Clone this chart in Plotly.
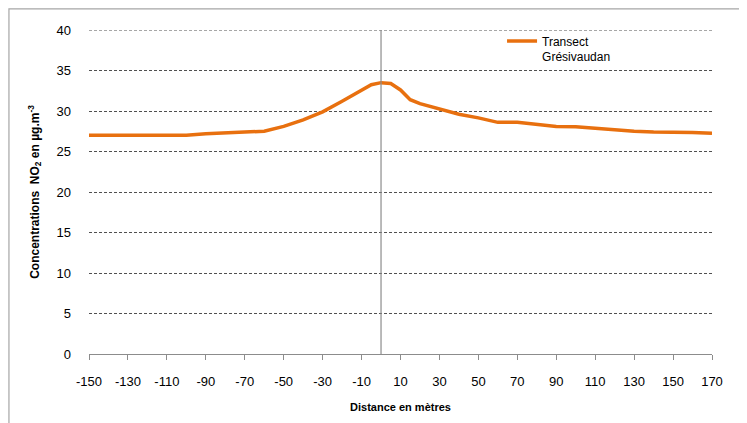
import plotly.graph_objects as go

# Data
distance_m = [-150, -140, -130, -120, -110, -100, -90, -80, -70, -60, -50, -40, -30, -20,
              -10, -5, 0, 5, 10, 15, 20, 30, 40, 50, 60, 70, 80, 90, 100, 110, 120, 130,
              140, 150, 160, 170]
no2_conc = [27.0, 27.0, 27.0, 27.0, 27.0, 27.0, 27.2, 27.25, 27.4, 27.5, 28.1, 28.9, 29.9, 31.2,
            32.6, 33.25, 33.5, 33.4, 32.6, 31.4, 30.9, 30.2, 29.6, 29.15, 28.6, 28.6, 28.3, 28.1,
            28.05, 27.85, 27.7, 27.5, 27.4, 27.4, 27.35, 27.25]
series_name = "Transect<br>Grésivaudan"
x_ticks = list(range(-150, 171, 20))
y_ticks = list(range(0, 41, 5))
reference_distance = 0

font_family = "Liberation Sans Narrow, Liberation Sans, Arial, sans-serif"

fig = go.Figure()
fig.add_trace(go.Scatter(
    x=distance_m, y=no2_conc, mode="lines", name=series_name,
    line=dict(color="#E8700F", width=3.5),
))

# top gridline (at the upper end of the axis range)
fig.add_shape(type="line", xref="paper", yref="y",
              x0=0, x1=1, y0=y_ticks[-1], y1=y_ticks[-1],
              line=dict(color="#505050", width=1, dash="3px,2px"), layer="below")
# vertical reference line at distance 0
fig.add_shape(type="line", xref="x", yref="y",
              x0=reference_distance, x1=reference_distance, y0=0, y1=40,
              line=dict(color="#8c8c8c", width=1.2))
# chart area border
fig.add_shape(type="rect", xref="paper", yref="paper",
              x0=-0.1285, x1=1.2, y0=-0.3, y1=1.0655,
              line=dict(color="#a6a6a6", width=1.2), fillcolor="rgba(0,0,0,0)", layer="below")

fig.update_layout(
    width=739, height=415,
    margin=dict(l=81, r=35, t=22, b=69),
    paper_bgcolor="white", plot_bgcolor="white",
    font=dict(family=font_family, size=13, color="#000000"),
    showlegend=True,
    legend=dict(x=0.663, y=1.01, xanchor="left", yanchor="top",
                bgcolor="rgba(255,255,255,0)", borderwidth=0,
                font=dict(family=font_family, size=12), valign="top",
                tracegroupgap=0, itemwidth=30),
    xaxis=dict(
        range=[-150, 170], tickmode="array", tickvals=x_ticks,
        ticktext=[str(v) for v in x_ticks],
        showgrid=False, zeroline=False,
        showline=True, linecolor="#8c8c8c", linewidth=1,
        ticks="outside", ticklen=5, tickcolor="#8c8c8c",
        ticklabelstandoff=10,
        tickfont=dict(size=13),
        title=dict(text="<b>Distance en mètres</b>", font=dict(size=11), standoff=15),
    ),
    yaxis=dict(
        range=[0, 40], tickmode="array", tickvals=y_ticks,
        showgrid=True, gridcolor="#505050", griddash="3px,2px", gridwidth=1,
        zeroline=False, showline=False, ticks="",
        ticklabelstandoff=17,
        tickfont=dict(size=13),
        title=dict(text="<b>Concentrations  NO<sub>2</sub> en µg.m<sup>-3</sup></b>",
                   font=dict(size=12), standoff=14),
    ),
)

fig.write_html("out.html")
